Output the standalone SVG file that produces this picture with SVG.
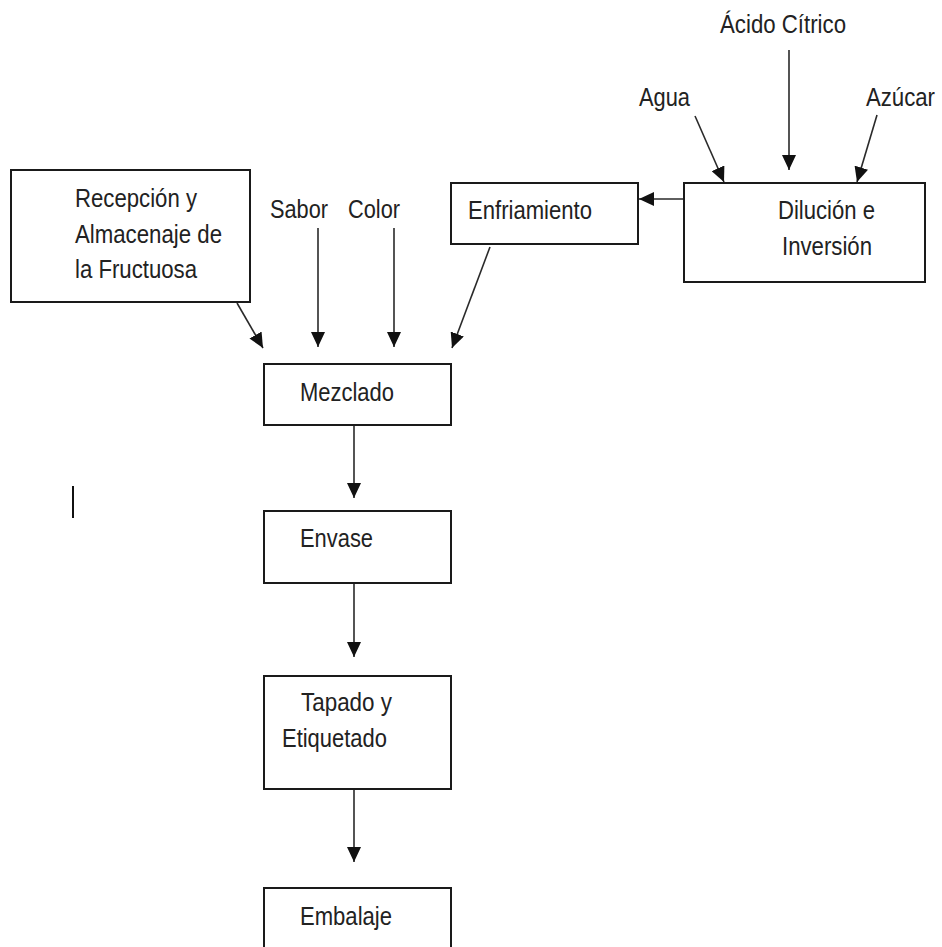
<svg xmlns="http://www.w3.org/2000/svg" width="942" height="947" viewBox="0 0 942 947">
<defs>
<style>
.box{fill:#fff;stroke:#1a1a1a;stroke-width:2}
.t{font-family:"Liberation Sans",Arial,sans-serif;font-size:25px;fill:#222}
.c{stroke:#2a2a2a;stroke-width:1.6;fill:none;marker-end:url(#ah)}
</style>
<marker id="ah" markerUnits="userSpaceOnUse" markerWidth="16" markerHeight="14" refX="15" refY="7" orient="auto">
<path d="M0,0 L15,7 L0,14 z" fill="#111"/>
</marker>
</defs>
<rect width="942" height="947" fill="#fff"/>
<g id="connectors">
<line class="c" x1="684" y1="199" x2="639" y2="199"/>
<line class="c" x1="695" y1="116" x2="724" y2="182"/>
<line class="c" x1="789" y1="50" x2="789" y2="170"/>
<line class="c" x1="877" y1="115" x2="857" y2="182"/>
<line class="c" x1="237" y1="303" x2="263" y2="348"/>
<line class="c" x1="318" y1="228" x2="318" y2="347"/>
<line class="c" x1="394" y1="228" x2="394" y2="347"/>
<line class="c" x1="490" y1="247" x2="452" y2="348"/>
<line class="c" x1="354" y1="425" x2="354" y2="498"/>
<line class="c" x1="354" y1="583" x2="354" y2="657"/>
<line class="c" x1="354" y1="789" x2="354" y2="862"/>
</g>
<g id="acido"><text class="t" x="720" y="33" textLength="126" lengthAdjust="spacingAndGlyphs">Ácido Cítrico</text></g>
<g id="agua"><text class="t" x="639" y="106" textLength="51" lengthAdjust="spacingAndGlyphs">Agua</text></g>
<g id="azucar"><text class="t" x="866" y="106" textLength="69" lengthAdjust="spacingAndGlyphs">Azúcar</text></g>
<g id="enfriamiento">
<rect class="box" x="451" y="183" width="187" height="61"/>
<text class="t" x="468" y="219" textLength="124" lengthAdjust="spacingAndGlyphs">Enfriamiento</text>
</g>
<g id="dilucion">
<rect class="box" x="684" y="183" width="241" height="99"/>
<text class="t" x="778" y="219" textLength="97" lengthAdjust="spacingAndGlyphs">Dilución e</text>
<text class="t" x="782" y="255" textLength="90" lengthAdjust="spacingAndGlyphs">Inversión</text>
</g>
<g id="recepcion">
<rect class="box" x="11" y="170" width="239" height="132"/>
<text class="t" x="75" y="207" textLength="122" lengthAdjust="spacingAndGlyphs">Recepción y</text>
<text class="t" x="75" y="243" textLength="147" lengthAdjust="spacingAndGlyphs">Almacenaje de</text>
<text class="t" x="75" y="278" textLength="122" lengthAdjust="spacingAndGlyphs">la Fructuosa</text>
</g>
<g id="sabor"><text class="t" x="270" y="218" textLength="58" lengthAdjust="spacingAndGlyphs">Sabor</text></g>
<g id="color"><text class="t" x="348" y="218" textLength="52" lengthAdjust="spacingAndGlyphs">Color</text></g>
<g id="mezclado">
<rect class="box" x="264" y="364" width="187" height="61"/>
<text class="t" x="300" y="401" textLength="94" lengthAdjust="spacingAndGlyphs">Mezclado</text>
</g>
<g id="envase">
<rect class="box" x="264" y="511" width="187" height="72"/>
<text class="t" x="300" y="547" textLength="73" lengthAdjust="spacingAndGlyphs">Envase</text>
</g>
<g id="tapado">
<rect class="box" x="264" y="676" width="187" height="113"/>
<text class="t" x="301" y="711" textLength="91" lengthAdjust="spacingAndGlyphs">Tapado y</text>
<text class="t" x="282" y="747" textLength="105" lengthAdjust="spacingAndGlyphs">Etiquetado</text>
</g>
<g id="embalaje">
<rect class="box" x="264" y="888" width="187" height="80"/>
<text class="t" x="300" y="925" textLength="92" lengthAdjust="spacingAndGlyphs">Embalaje</text>
</g>
<line x1="73" y1="486" x2="73" y2="518" stroke="#111" stroke-width="2"/>
</svg>
